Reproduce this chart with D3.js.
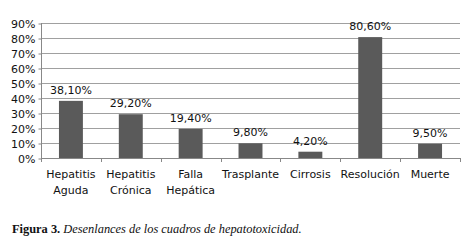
<!DOCTYPE html>
<html lang="es">
<head>
  <meta charset="UTF-8">
  <script src="https://d3js.org/d3.v7.min.js"></script>
  <title>Figura 3</title>
  <style>
    body { margin: 0; background: #fff; }
    svg text { font-family: "DejaVu Sans", sans-serif; fill: #111; }
  </style>
</head>
<body>
  <script>
    // categories (two lines each) and values in %
    const categories = [["Hepatitis", "Aguda"], ["Hepatitis", "Crónica"], ["Falla", "Hepática"],
                        ["Trasplante"], ["Cirrosis"], ["Resolución"], ["Muerte"]]
    const values = [38.1, 29.2, 19.4, 9.8, 4.2, 80.6, 9.5]
    const yTicks = [0, 10, 20, 30, 40, 50, 60, 70, 80, 90]

    const width = 475, height = 244
    const plotLeft = 41, plotRight = 460, plotTop = 23, plotBottom = 158

    const svg = d3.select("body").append("svg")
                  .attr("width", width)
                  .attr("height", height)

    const xScale = d3.scaleBand()
                     .domain(d3.range(categories.length))
                     .range([plotLeft, plotRight])
                     .paddingInner(0.6)
                     .paddingOuter(0.3)

    const yScale = d3.scaleLinear()
                     .domain([0, 90])
                     .range([plotBottom, plotTop])

    /* gridlines */
    svg.append("g")
      .selectAll("line")
      .data(yTicks.slice(1))
      .enter()
      .append("line")
      .attr("x1", plotLeft).attr("x2", plotRight)
      .attr("y1", d => Math.round(yScale(d)) + 0.5).attr("y2", d => Math.round(yScale(d)) + 0.5)
      .attr("stroke", "#a0a0a0")

    /* y axis */
    const yAxis = d3.axisLeft(yScale).tickValues(yTicks).tickSize(3).tickFormat(d => d + "%")
    const gy = svg.append("g")
      .attr("transform", `translate(${plotLeft + 0.5}, 0.5)`)
      .call(yAxis)
    gy.selectAll("line").attr("stroke", "#888")
    gy.selectAll("text").attr("font-size", 11).attr("x", -6).attr("fill", "#111")
    gy.select(".domain").remove()
    svg.append("line").attr("x1", plotLeft + 0.5).attr("x2", plotLeft + 0.5)
      .attr("y1", plotTop).attr("y2", plotBottom + 0.5).attr("stroke", "#888")

    /* bars */
    svg.selectAll("rect.bar")
      .data(values)
      .enter()
      .append("rect")
      .attr("class", "bar")
      .attr("x", (d, i) => xScale(i))
      .attr("width", xScale.bandwidth())
      .attr("y", d => yScale(d))
      .attr("height", d => yScale(0) - yScale(d))
      .attr("fill", "#5a5a5a")

    /* value labels */
    svg.selectAll("text.val")
      .data(values)
      .enter()
      .append("text")
      .attr("class", "val")
      .attr("x", (d, i) => xScale(i) + xScale.bandwidth() / 2)
      .attr("y", d => yScale(d) - 7)
      .attr("text-anchor", "middle")
      .attr("font-size", 11)
      .text(d => d.toFixed(2).replace(".", ",") + "%")

    /* x axis line and ticks at category boundaries */
    svg.append("line").attr("x1", plotLeft).attr("x2", plotRight)
      .attr("y1", plotBottom + 0.5).attr("y2", plotBottom + 0.5).attr("stroke", "#888")
    const step = (plotRight - plotLeft) / categories.length
    svg.append("g")
      .selectAll("line")
      .data(d3.range(categories.length + 1))
      .enter()
      .append("line")
      .attr("x1", d => Math.round(plotLeft + d * step) + 0.5)
      .attr("x2", d => Math.round(plotLeft + d * step) + 0.5)
      .attr("y1", plotBottom).attr("y2", plotBottom + 4)
      .attr("stroke", "#888")

    /* category labels */
    const cat = svg.selectAll("text.cat")
      .data(categories)
      .enter()
      .append("text")
      .attr("class", "cat")
      .attr("text-anchor", "middle")
      .attr("font-size", 11)
      .attr("x", (d, i) => xScale(i) + xScale.bandwidth() / 2)
      .attr("y", 178)
    cat.selectAll("tspan")
      .data(d => d)
      .enter()
      .append("tspan")
      .attr("x", function() { return d3.select(this.parentNode).attr("x") })
      .attr("dy", (d, i) => i ? 16 : 0)
      .text(d => d)

    /* caption */
    const cap = svg.append("text")
      .attr("x", 12).attr("y", 233)
      .attr("font-size", 12.4)
      .style("font-family", "'Liberation Serif', serif")
    cap.append("tspan").attr("font-weight", "bold").text("Figura 3. ")
    cap.append("tspan").attr("font-style", "italic").text("Desenlances de los cuadros de hepatotoxicidad.")
  </script>
</body>
</html>
